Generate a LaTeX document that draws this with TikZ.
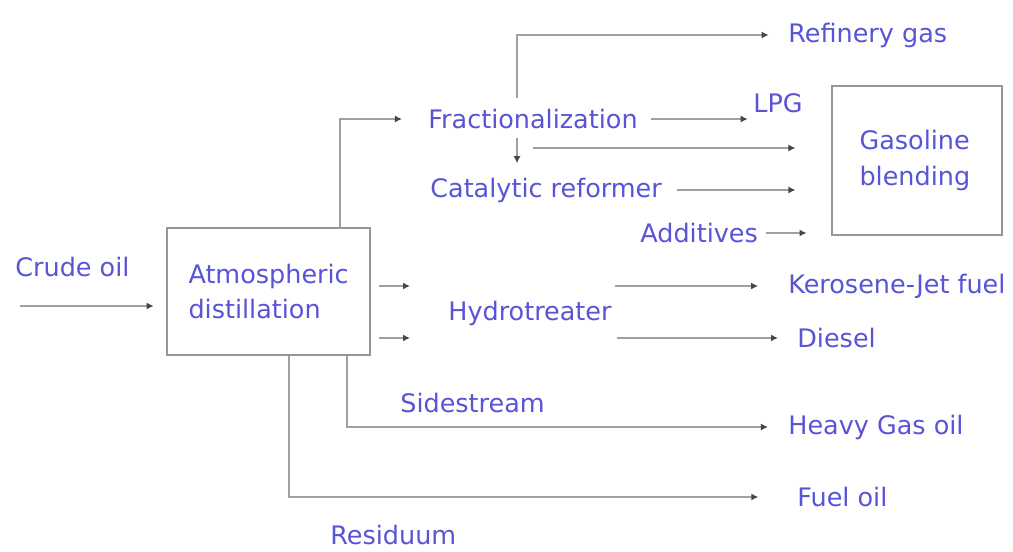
\documentclass[tikz,border=0pt]{standalone}
\usepackage{fontspec}
\setmainfont{DejaVu Sans}
\usetikzlibrary{calc, arrows.meta}

\begin{document}
\begin{tikzpicture}[
    x=0.02cm, y=-0.02cm,
    >={Latex[length=4pt, width=4pt, color=tip_color]},
]

\definecolor{txt_color}{RGB}{88,84,214}
\definecolor{line_color}{RGB}{160,160,160}
\definecolor{tip_color}{RGB}{70,70,70}
\definecolor{box_color}{RGB}{150,150,150}

\tikzstyle{lbl} = [inner xsep=0pt, inner ysep=2pt, anchor=west, text=txt_color, font=\fontsize{14.5}{20}\selectfont]
\tikzstyle{blk} = [rectangle, draw=box_color, line width=1.6pt, text=txt_color, align=left, font=\fontsize{14.5}{20}\selectfont]
\tikzstyle{flow} = [->, draw=line_color, line width=1.1pt]

\useasboundingbox (0,0) rectangle (1013,551);

\node (crude) [lbl] at (15,267) {Crude oil};
\node (atm) [blk, minimum width=4.06cm, minimum height=2.54cm, text width=3.2cm] at (268.5,291.5) {Atmospheric\\distillation};
\node (gas) [blk, minimum width=3.4cm, minimum height=2.98cm, text width=2.3cm] at (917,160.5) {Gasoline\\blending};

\node (frac) [lbl] at (428,119) {Fractionalization};
\node (refgas) [lbl] at (788,35) {Refinery gas};
\node (lpg) [lbl] at (753,103) {LPG};
\node (cat) [lbl] at (430,190) {Catalytic reformer};
\node (add) [lbl] at (640,233) {Additives};
\node (hydro) [lbl] at (448,313) {Hydrotreater};
\node (kero) [lbl] at (788,286) {Kerosene-Jet fuel};
\node (diesel) [lbl] at (797,338) {Diesel};
\node (side) [lbl] at (400,403) {Sidestream};
\node (heavy) [lbl] at (788,427) {Heavy Gas oil};
\node (fuel) [lbl] at (797,497) {Fuel oil};
\node (resid) [lbl] at (330,535) {Residuum};

\coordinate (crudein) at (20,306);
\coordinate (split) at (517,148);

% feed and overhead
\draw[flow, shorten >=6.8pt] (crudein) -- (crudein -| atm.west);
\draw[flow, shorten >=14.8pt] ($ (atm.north)+(71.5,0) $) |- (frac.west);
\draw[flow, shorten <=4pt, shorten >=11pt] (frac.north -| split) |- (refgas.west);
\draw[flow, shorten <=7.4pt, shorten >=3pt] (frac.east) -- (frac.east -| lpg.west);
\draw[flow, shorten <=3pt, shorten >=6pt] (frac.south -| split) -- (cat.north -| split);

% to gasoline blending
\draw[flow, shorten >=20pt] ($ (split)+(16,0) $) -- (split -| gas.west);
\draw[flow, shorten <=8.5pt, shorten >=20pt] (cat.east) -- (cat.east -| gas.west);
\draw[flow, shorten <=4.5pt, shorten >=13.7pt] (add.east) -- (add.east -| gas.west);

% hydrotreater
\draw[flow, shorten <=4.5pt, shorten >=21.6pt] (atm.east |- kero.west) -- (hydro.west |- kero.west);
\draw[flow, shorten <=4.5pt, shorten >=21.6pt] (atm.east |- diesel.west) -- (hydro.west |- diesel.west);
\draw[flow, shorten <=2pt, shorten >=17pt] (hydro.east |- kero.west) -- (kero.west);
\draw[flow, shorten <=3pt, shorten >=10.8pt] (hydro.east |- diesel.west) -- (diesel.west);

% bottoms
\draw[flow, shorten >=11.4pt] ($ (atm.south)+(78.5,0) $) |- (heavy.west);
\draw[flow, shorten >=22pt] ($ (atm.south)+(20.5,0) $) |- (fuel.west);

\end{tikzpicture}
\end{document}
